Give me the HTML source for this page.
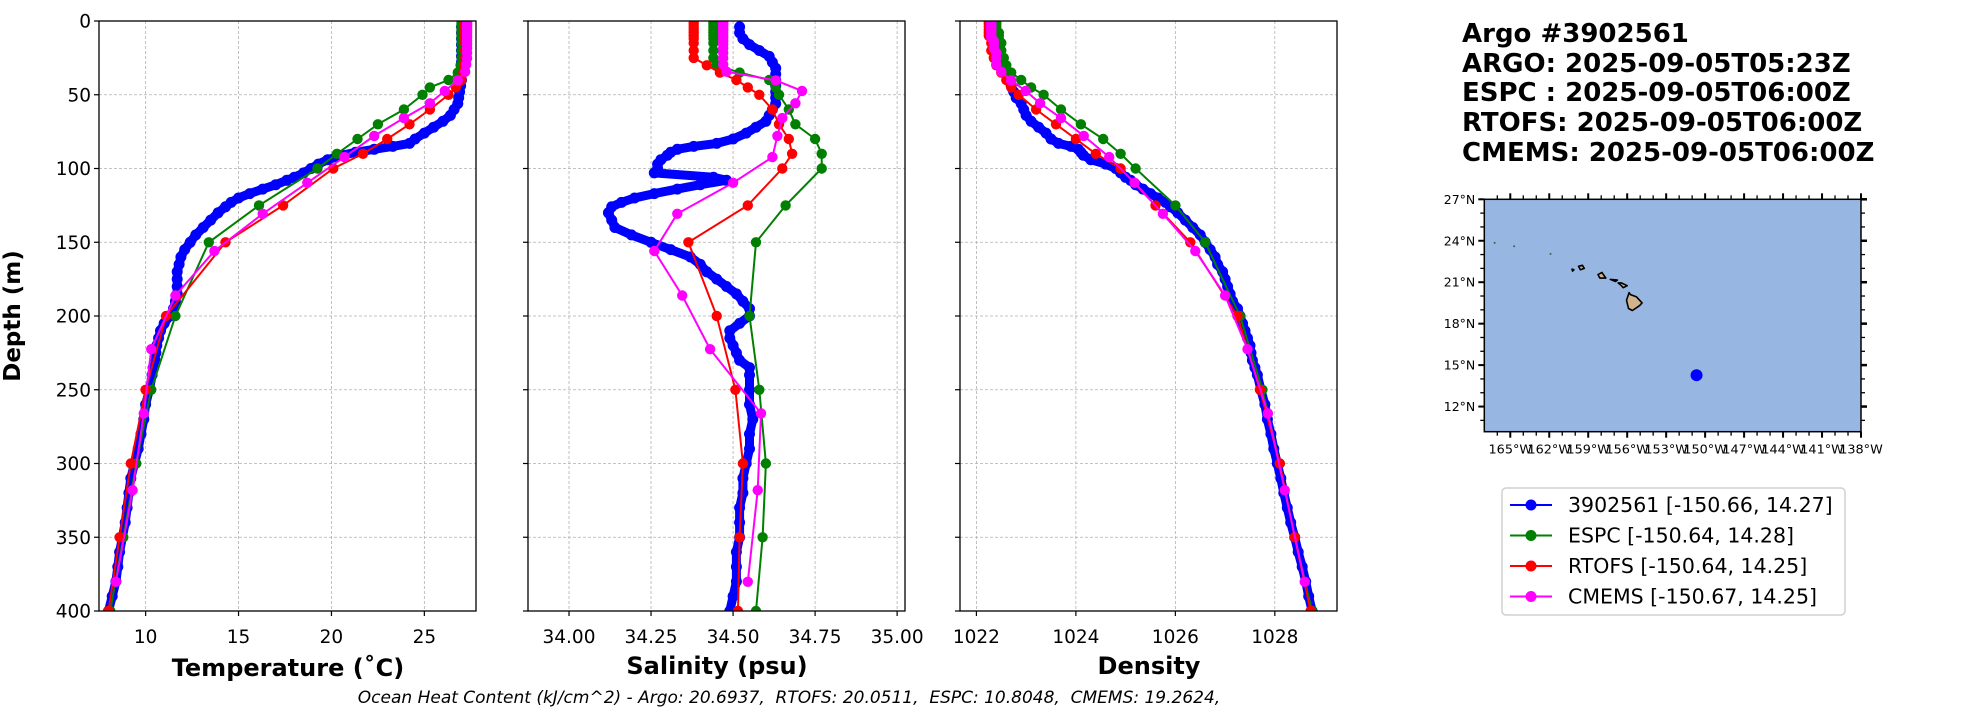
<!DOCTYPE html>
<html><head><meta charset="utf-8"><style>
html,body{margin:0;padding:0;background:#fff;}
svg{display:block;font-family:"DejaVu Sans","Liberation Sans",sans-serif;}
</style></head><body>
<svg id="fig" width="1967" height="712" viewBox="0 0 1967 712" xmlns="http://www.w3.org/2000/svg">
<g id="g-grid"></g><g id="g-data"></g><g id="g-axes"></g>
<text x="20" y="316" font-size="23" font-weight="bold" text-anchor="middle" transform="rotate(-90 20 316)">Depth (m)</text>
<text x="288" y="676" font-size="24" font-weight="bold" text-anchor="middle">Temperature (˚C)</text>
<text x="717" y="674" font-size="24" font-weight="bold" text-anchor="middle">Salinity (psu)</text>
<text x="1149" y="674" font-size="24" font-weight="bold" text-anchor="middle">Density</text>
<text x="789" y="703" font-size="17" font-style="italic" text-anchor="middle" style="white-space:pre" xml:space="preserve">Ocean Heat Content (kJ/cm^2) - Argo: 20.6937,  RTOFS: 20.0511,  ESPC: 10.8048,  CMEMS: 19.2624,</text>
<g font-size="26" font-weight="bold">
<text x="1462" y="42">Argo #3902561</text>
<text x="1462" y="72">ARGO: 2025-09-05T05:23Z</text>
<text x="1462" y="101">ESPC : 2025-09-05T06:00Z</text>
<text x="1462" y="131">RTOFS: 2025-09-05T06:00Z</text>
<text x="1462" y="161">CMEMS: 2025-09-05T06:00Z</text>
</g>
<g id="g-map"></g>
<g id="g-legend">
<rect x="1502" y="488" width="343" height="127" rx="4" fill="#fff" stroke="#d0d0d0" stroke-width="1.5"/>
</g>
</svg>
<script>
// ---------- data ----------
const argoDepth=[4,8,12,16,20,24,28,32,36,40,44,48,52,56,60,64,68,72,76,80,83,85,87,89,91,94,97,100,103,106,108,111,114,117,120,123,126,130,135,140,145,150,155,160,165,170,175,180,185,190,195,200,205,210,215,220,225,230,235,240,250,260,270,280,290,300,310,320,330,340,350,360,370,380,390,400];
const argoTemp=[27.0,27.0,27.0,27.0,27.0,27.0,27.0,27.0,27.0,27.0,26.95,26.9,26.85,26.8,26.6,26.4,26.0,25.5,25.0,24.5,24.2,23.3,22.3,21.3,20.6,19.8,19.3,18.9,18.5,18.0,17.6,17.0,16.3,15.6,15.0,14.6,14.3,13.9,13.5,13.1,12.7,12.4,12.1,11.9,11.8,11.7,11.7,11.7,11.7,11.6,11.5,11.3,11.0,10.8,10.7,10.6,10.55,10.5,10.4,10.35,10.2,10.0,9.9,9.75,9.6,9.4,9.2,9.1,9.0,8.9,8.75,8.6,8.5,8.4,8.2,8.0];
const argoSal=[34.52,34.52,34.53,34.55,34.58,34.61,34.62,34.63,34.63,34.63,34.63,34.63,34.63,34.63,34.62,34.61,34.60,34.57,34.54,34.50,34.45,34.38,34.33,34.31,34.30,34.28,34.27,34.27,34.26,34.44,34.48,34.40,34.33,34.26,34.20,34.16,34.13,34.12,34.13,34.14,34.19,34.25,34.31,34.37,34.40,34.42,34.45,34.48,34.51,34.53,34.55,34.55,34.52,34.49,34.49,34.50,34.51,34.52,34.55,34.55,34.55,34.55,34.56,34.55,34.55,34.54,34.53,34.53,34.52,34.52,34.52,34.51,34.51,34.51,34.50,34.49];
const argoDens=[1022.35,1022.35,1022.4,1022.4,1022.45,1022.45,1022.5,1022.55,1022.6,1022.65,1022.7,1022.75,1022.8,1022.9,1022.95,1023.0,1023.1,1023.25,1023.4,1023.5,1023.65,1023.9,1024.05,1024.1,1024.15,1024.3,1024.6,1024.8,1024.9,1025.0,1025.1,1025.2,1025.35,1025.5,1025.65,1025.8,1025.9,1026.05,1026.2,1026.35,1026.5,1026.6,1026.7,1026.8,1026.85,1026.95,1027.0,1027.05,1027.1,1027.15,1027.25,1027.3,1027.35,1027.4,1027.45,1027.5,1027.52,1027.55,1027.6,1027.65,1027.72,1027.8,1027.85,1027.92,1027.98,1028.05,1028.12,1028.18,1028.25,1028.32,1028.4,1028.47,1028.55,1028.62,1028.68,1028.75];

const espcDepth=[0,2,4,6,8,10,12,15,20,25,30,35,40,45,50,60,70,80,90,100,125,150,200,250,300,350,400];
const espcTemp=[27.0,27.0,27.0,27.0,27.0,27.0,27.0,27.0,27.0,27.0,26.95,26.8,26.3,25.3,24.9,23.9,22.5,21.4,20.3,19.25,16.1,13.4,11.6,10.3,9.5,8.8,8.1];
const espcSal=[34.44,34.44,34.44,34.44,34.44,34.44,34.44,34.44,34.44,34.44,34.45,34.52,34.61,34.63,34.64,34.67,34.69,34.75,34.77,34.77,34.66,34.57,34.55,34.58,34.60,34.59,34.57];
const espcDens=[1022.4,1022.4,1022.4,1022.4,1022.45,1022.45,1022.45,1022.5,1022.5,1022.55,1022.6,1022.7,1022.9,1023.1,1023.35,1023.7,1024.1,1024.55,1024.9,1025.2,1026.0,1026.6,1027.3,1027.75,1028.1,1028.4,1028.75];

const rtofsDepth=[0,2,4,6,8,10,12,15,20,25,30,35,40,45,50,60,70,80,90,100,125,150,200,250,300,350,400];
const rtofsTemp=[27.2,27.2,27.2,27.2,27.2,27.2,27.2,27.2,27.2,27.2,27.15,27.1,27.0,26.7,26.3,25.3,24.2,23.0,21.7,20.1,17.4,14.3,11.1,10.0,9.2,8.6,8.0];
const rtofsSal=[34.38,34.38,34.38,34.38,34.38,34.38,34.38,34.38,34.38,34.38,34.42,34.46,34.51,34.545,34.58,34.62,34.64,34.67,34.68,34.65,34.545,34.364,34.45,34.507,34.53,34.52,34.515];
const rtofsDens=[1022.25,1022.25,1022.25,1022.25,1022.25,1022.25,1022.3,1022.3,1022.3,1022.35,1022.4,1022.5,1022.6,1022.7,1022.85,1023.2,1023.6,1024.0,1024.4,1024.9,1025.6,1026.3,1027.25,1027.7,1028.1,1028.4,1028.72];

const cmemsDepth=[0.5,1.5,2.6,3.8,5.1,6.4,7.9,9.6,11.4,13.5,15.8,18.5,21.6,25.2,29.4,34.4,40.3,47.4,55.8,65.8,77.9,92.3,109.7,130.7,155.9,186.1,222.5,266.0,318.1,380.2];
const cmemsTemp=[27.3,27.3,27.3,27.3,27.3,27.3,27.3,27.3,27.3,27.3,27.3,27.3,27.3,27.3,27.25,27.2,26.8,26.1,25.3,23.9,22.3,20.7,18.7,16.3,13.7,11.6,10.3,9.9,9.3,8.4];
const cmemsSal=[34.47,34.47,34.47,34.47,34.47,34.47,34.47,34.47,34.47,34.47,34.47,34.47,34.47,34.47,34.47,34.48,34.63,34.71,34.69,34.65,34.635,34.62,34.50,34.33,34.26,34.345,34.43,34.585,34.575,34.545];
const cmemsDens=[1022.3,1022.3,1022.3,1022.3,1022.3,1022.3,1022.3,1022.3,1022.3,1022.35,1022.35,1022.35,1022.4,1022.4,1022.4,1022.5,1022.7,1022.99,1023.28,1023.7,1024.16,1024.67,1025.18,1025.75,1026.4,1027.0,1027.45,1027.86,1028.2,1028.6];

const depthTicks=[0,50,100,150,200,250,300,350,400];
const tempTicks=[10,15,20,25];
const salTicks=[34.00,34.25,34.50,34.75,35.00];
const salTickLabels=["34.00","34.25","34.50","34.75","35.00"];
const densTicks=[1022,1024,1026,1028];
const latTicks=[12,15,18,21,24,27];
const lonTicks=[165,162,159,156,153,150,147,144,141,138];
const floatLon=[-150.66];
const floatLat=[14.27];
const legendLabels=["3902561 [-150.66, 14.27]","ESPC [-150.64, 14.28]","RTOFS [-150.64, 14.25]","CMEMS [-150.67, 14.25]"];

// ---------- helpers ----------
const NS="http://www.w3.org/2000/svg";
function mk(tag,attrs,parent){const e=document.createElementNS(NS,tag);for(const k in attrs)e.setAttribute(k,attrs[k]);parent.appendChild(e);return e;}
const gGrid=document.getElementById('g-grid'),gData=document.getElementById('g-data'),gAxes=document.getElementById('g-axes');
const TOP=21,BOT=611;
function yScale(d){return TOP+(d/400)*(BOT-TOP);}
const panels=[
 {name:'temperature',x0:99,x1:476,lo:7.49,hi:27.78,ticks:tempTicks,labels:tempTicks.map(String),yl:true,
  series:[[argoDepth,argoTemp],[espcDepth,espcTemp],[rtofsDepth,rtofsTemp],[cmemsDepth,cmemsTemp]]},
 {name:'salinity',x0:528,x1:905,lo:33.875,hi:35.024,ticks:salTicks,labels:salTickLabels,yl:false,
  series:[[argoDepth,argoSal],[espcDepth,espcSal],[rtofsDepth,rtofsSal],[cmemsDepth,cmemsSal]]},
 {name:'density',x0:960,x1:1337,lo:1021.67,hi:1029.25,ticks:densTicks,labels:densTicks.map(String),yl:false,
  series:[[argoDepth,argoDens],[espcDepth,espcDens],[rtofsDepth,rtofsDens],[cmemsDepth,cmemsDens]]}
];
const colors=['#0000ff','#008000','#ff0000','#ff00ff'];
const snames=['argo','espc','rtofs','cmems'];
const radii=[5.5,5.2,5.2,5.2];
const widths=[9,2,2,2];

panels.forEach(p=>{
  const xs=v=>p.x0+(v-p.lo)/(p.hi-p.lo)*(p.x1-p.x0);
  const cp=mk('clipPath',{id:'clip-'+p.name},gData);
  mk('rect',{x:p.x0,y:TOP,width:p.x1-p.x0,height:BOT-TOP},cp);
  p.ticks.forEach(t=>{const l=mk('line',{x1:xs(t),x2:xs(t),y1:TOP,y2:BOT,stroke:'#b0b0b0','stroke-width':0.8,'stroke-dasharray':'3,2'},gGrid);
    });
  depthTicks.forEach(t=>{const l=mk('line',{x1:p.x0,x2:p.x1,y1:yScale(t),y2:yScale(t),stroke:'#b0b0b0','stroke-width':0.8,'stroke-dasharray':'3,2'},gGrid);
    });
  const sg=mk('g',{'clip-path':'url(#clip-'+p.name+')'},gData);
  [0,1,2,3].forEach(i=>{
    const [ds,vs]=p.series[i];
    const pts=ds.map((d,k)=>xs(vs[k]).toFixed(1)+','+yScale(d).toFixed(1)).join(' ');
    const g=mk('g',{},sg);
    
    
    if(i===0) mk('polyline',{points:pts,fill:'none',stroke:colors[i],'stroke-width':widths[i],'stroke-linejoin':'round','stroke-linecap':'round'},g);
    mk('polyline',{points:pts,fill:'none',stroke:colors[i],'stroke-width':2},g);
    ds.forEach((d,k)=>{mk('circle',{cx:xs(vs[k]).toFixed(1),cy:yScale(d).toFixed(1),r:radii[i],fill:colors[i]},g);});
  });
  const fr=mk('rect',{x:p.x0,y:TOP,width:p.x1-p.x0,height:BOT-TOP,fill:'none',stroke:'#000','stroke-width':1.3},gAxes);
  
  p.ticks.forEach((t,k)=>{
    mk('line',{x1:xs(t),x2:xs(t),y1:BOT,y2:BOT+5,stroke:'#000','stroke-width':1.2},gAxes);
    const tx=mk('text',{x:xs(t),y:643,'font-size':18.5,'text-anchor':'middle'},gAxes);tx.textContent=p.labels[k];
    
  });
  depthTicks.forEach(t=>{
    mk('line',{x1:p.x0-5,x2:p.x0,y1:yScale(t),y2:yScale(t),stroke:'#000','stroke-width':1.2},gAxes);
    if(p.yl){const tx=mk('text',{x:p.x0-8,y:yScale(t)+6.5,'font-size':18.5,'text-anchor':'end'},gAxes);tx.textContent=String(t);
      }
  });
});

// ---------- map ----------
const gMap=document.getElementById('g-map');
const MX0=1484.3,MX1=1861,MY0=199.3,MY1=431.7,LONW0=167.0,LONW1=138.0,LAT0=10.18,LAT1=27.0;
const mx=lonW=>MX0+(LONW0-lonW)/(LONW0-LONW1)*(MX1-MX0);
const my=lat=>MY1-(lat-LAT0)/(LAT1-LAT0)*(MY1-MY0);
const ocean=mk('rect',{x:MX0,y:MY0,width:MX1-MX0,height:MY1-MY0,fill:'#97b6e1',stroke:'#000','stroke-width':1.5},gMap);

const islands=[
 [[155.85,20.25],[155.75,20.1],[155.3,19.95],[154.85,19.5],[155.05,19.3],[155.6,18.95],[155.9,19.1],[156.05,19.7],[155.85,20.25]],
 [[156.7,20.95],[156.45,20.95],[156.0,20.75],[156.3,20.6],[156.5,20.8],[156.7,20.95]],
 [[157.3,21.2],[156.75,21.15],[156.9,21.05],[157.3,21.2]],
 [[158.25,21.55],[157.95,21.7],[157.65,21.3],[158.1,21.3],[158.25,21.55]],
 [[159.75,22.15],[159.45,22.22],[159.3,22.0],[159.6,21.9],[159.75,22.15]],
 [[160.25,21.95],[160.1,21.9],[160.2,21.8],[160.25,21.95]]
];
islands.forEach(poly=>{
  const pl=mk('polygon',{points:poly.map(q=>mx(q[0]).toFixed(1)+','+my(q[1]).toFixed(1)).join(' '),fill:'#d2b48c',stroke:'#000','stroke-width':1.6,'stroke-linejoin':'round'},gMap);
  
});
[[166.2,23.85],[164.7,23.6],[161.9,23.05]].forEach(q=>mk('circle',{cx:mx(q[0]),cy:my(q[1]),r:1,fill:'#555'},gMap));
floatLon.forEach((lo,k)=>{const c=mk('circle',{cx:mx(-lo),cy:my(floatLat[k]),r:6,fill:'#0000ff'},gMap);
  });
latTicks.forEach(t=>{
  const y=my(t);
  mk('line',{x1:MX0-6,x2:MX0,y1:y,y2:y,stroke:'#000','stroke-width':2},gMap);
  mk('line',{x1:MX1,x2:MX1+6,y1:y,y2:y,stroke:'#000','stroke-width':2.5},gMap);
  const tx=mk('text',{x:MX0-9,y:y+4.5,'font-size':12.5,'text-anchor':'end'},gMap);tx.textContent=t+'°N';
  
});
for(let l=11;l<27;l+=1){if(l%3===0)continue;const y=my(l);mk('line',{x1:MX0-4,x2:MX0,y1:y,y2:y,stroke:'#000','stroke-width':1.3},gMap);mk('line',{x1:MX1,x2:MX1+4,y1:y,y2:y,stroke:'#000','stroke-width':1.3},gMap);}
for(let l=166;l>=138;l-=1){if(l%3===0)continue;const x=mx(l);mk('line',{x1:x,x2:x,y1:MY1,y2:MY1+4,stroke:'#000','stroke-width':1.3},gMap);mk('line',{x1:x,x2:x,y1:MY0-4,y2:MY0,stroke:'#000','stroke-width':1.3},gMap);}
lonTicks.forEach(t=>{
  const x=mx(t);
  mk('line',{x1:x,x2:x,y1:MY1,y2:MY1+6,stroke:'#000','stroke-width':2},gMap);
  mk('line',{x1:x,x2:x,y1:MY0-6,y2:MY0,stroke:'#000','stroke-width':2},gMap);
  const tx=mk('text',{x:x,y:MY1+22,'font-size':12.8,'text-anchor':'middle'},gMap);tx.textContent=t+'°W';
  
});

// ---------- legend ----------
const gLeg=document.getElementById('g-legend');
legendLabels.forEach((lab,i)=>{
  const y=505+i*30.5;
  const g=mk('g',{},gLeg);
  
  
  mk('line',{x1:1510,x2:1552,y1:y,y2:y,stroke:colors[i],'stroke-width':2},g);
  mk('circle',{cx:1531,cy:y,r:5.5,fill:colors[i]},g);
  const tx=mk('text',{x:1568,y:y+7,'font-size':20.5},g);tx.textContent=lab;
});
</script>
</body></html>
